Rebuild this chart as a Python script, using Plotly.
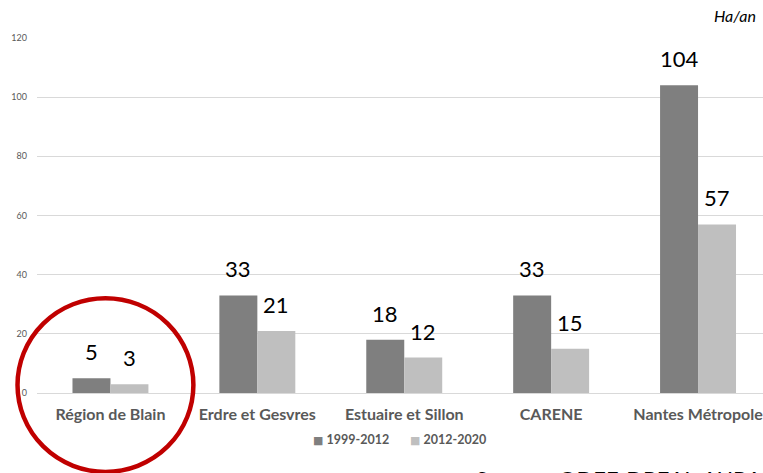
import plotly.graph_objects as go

categories = ["Région de Blain", "Erdre et Gesvres", "Estuaire et Sillon", "CARENE", "Nantes Métropole"]
series_names = ["1999-2012", "2012-2020"]
values_1999_2012 = [5, 33, 18, 33, 104]
values_2012_2020 = [3, 21, 12, 15, 57]
y_ticks = [0, 20, 40, 60, 80, 100, 120]

W, H = 763, 473
L, T, B = 36.5, 37.5, 80
R = 0
pw = W - L - R
ph = H - T - B

def px_x(x):
    return (x - L) / pw

def px_y(y):
    return (H - B - y) / ph

fig = go.Figure()
colors = ["#7f7f7f", "#bfbfbf"]
for name, vals, col in zip(series_names, [values_1999_2012, values_2012_2020], colors):
    fig.add_trace(go.Bar(
        x=categories, y=vals, name=name,
        marker=dict(color=col, line=dict(width=0)),
        hoverinfo="skip", showlegend=False,
    ))

annotations = []
for vals, shift in [(values_1999_2012, -19), (values_2012_2020, 19)]:
    for c, v in zip(categories, vals):
        annotations.append(dict(
            x=c, y=v, xref="x", yref="y", text=str(v), showarrow=False,
            xshift=shift, yshift=11, yanchor="bottom",
            font=dict(family="Lato", size=22, color="#000000"),
        ))

# legend entries (drawn as text with a coloured square)
for name, col, lx in zip(series_names, colors, [311, 408]):
    annotations.append(dict(
        x=px_x(lx), y=px_y(440), xref="paper", yref="paper",
        text=f'<span style="color:{col};font-family:DejaVu Sans;font-size:11px">■</span> <b>{name}</b>',
        showarrow=False, xanchor="left", yanchor="middle",
        font=dict(family="Lato", size=12.5, color="#595959"),
    ))

annotations.append(dict(
    x=px_x(758), y=px_y(15), xref="paper", yref="paper", text="<i>Ha/an</i>",
    showarrow=False, xanchor="right", yanchor="middle",
    font=dict(family="Lato", size=16, color="#000000"),
))
annotations.append(dict(
    x=px_x(474), y=px_y(463), xref="paper", yref="paper",
    text="Source : ODEF-DREAL-AURAN",
    showarrow=False, xanchor="left", yanchor="top",
    font=dict(family="Lato", size=22, color="#000000"),
))

fig.update_layout(
    width=W, height=H,
    margin=dict(l=L, r=R, t=T, b=B, pad=0),
    paper_bgcolor="white", plot_bgcolor="white",
    barmode="group", bargap=0.483, bargroupgap=0,
    annotations=annotations,
    shapes=[dict(
        type="circle", xref="paper", yref="paper",
        x0=px_x(17), x1=px_x(193), y0=px_y(472), y1=px_y(298),
        line=dict(color="#c00000", width=4.5), layer="above",
    )],
    xaxis=dict(
        type="category", range=[-0.5, -0.5 + pw / 147.0],
        showgrid=False, showline=False, ticks="",
        tickfont=dict(family="Lato", size=16, color="#595959", weight="bold"),
        ticklabelstandoff=10,
    ),
    yaxis=dict(
        range=[0, 120], tickvals=y_ticks,
        showgrid=True, gridcolor="#d9d9d9", gridwidth=1,
        zeroline=True, zerolinecolor="#d9d9d9", zerolinewidth=1,
        showline=False, ticks="",
        tickfont=dict(family="Lato", size=9, color="#595959"),
        ticklabelstandoff=9,
    ),
    showlegend=False,
)

fig.write_html(
    "out.html",
    config={"displayModeBar": False},
    post_script="document.body.style.margin='0px';document.body.style.overflow='hidden';",
)
